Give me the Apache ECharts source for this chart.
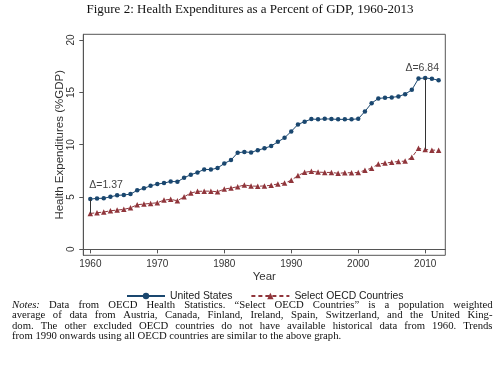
<!DOCTYPE html>
<html>
<head>
<meta charset="utf-8">
<script src="https://cdn.jsdelivr.net/npm/echarts@6/dist/echarts.min.js"></script>
<style>html,body{margin:0;padding:0;background:#fff;}#c{width:500px;height:368px;}</style>
</head>
<body>
<div id="c"></div>
<script>
const years = [1960,1961,1962,1963,1964,1965,1966,1967,1968,1969,
  1970,1971,1972,1973,1974,1975,1976,1977,1978,1979,
  1980,1981,1982,1983,1984,1985,1986,1987,1988,1989,
  1990,1991,1992,1993,1994,1995,1996,1997,1998,1999,
  2000,2001,2002,2003,2004,2005,2006,2007,2008,2009,
  2010,2011,2012];
const usValues = [4.80,4.87,4.88,5.02,5.16,5.19,5.28,5.64,5.83,6.07,
  6.24,6.33,6.49,6.46,6.84,7.13,7.35,7.64,7.62,7.77,
  8.21,8.53,9.23,9.31,9.26,9.48,9.65,9.88,10.27,10.66,
  11.27,11.94,12.20,12.45,12.42,12.47,12.45,12.42,12.42,12.42,
  12.47,13.18,13.97,14.42,14.48,14.52,14.61,14.83,15.24,16.32,
  16.38,16.30,16.16];
const oecdValues = [3.43,3.50,3.56,3.69,3.75,3.82,3.97,4.26,4.33,4.39,
  4.45,4.71,4.78,4.64,5.02,5.38,5.54,5.56,5.56,5.50,
  5.76,5.86,5.98,6.15,6.05,6.03,6.06,6.12,6.25,6.33,
  6.60,7.05,7.36,7.46,7.38,7.35,7.35,7.26,7.32,7.32,
  7.34,7.56,7.76,8.15,8.24,8.32,8.40,8.43,8.79,9.65,
  9.54,9.48,9.48];
const xTicks = [1960,1970,1980,1990,2000,2010];
const yTicks = [0,5,10,15,20];
const deltaYears = [1960,2010];
const seriesNames = ['United States','Select OECD Countries'];
const titleText = 'Figure 2: Health Expenditures as a Percent of GDP, 1960-2013';
const xName = 'Year';
const yName = 'Health Expenditures (%GDP)';
const notesLead = 'Notes:';
const noteLines = [
  'Data from OECD Health Statistics. \u201cSelect OECD Countries\u201d is a population weighted',
  'average of data from Austria, Canada, Finland, Ireland, Spain, Switzerland, and the United King-',
  'dom. The other excluded OECD countries do not have available historical data from 1960. Trends',
  'from 1990 onwards using all OECD countries are similar to the above graph.'
];

const NAVY = '#1a476f', MAROON = '#90353b';
const SANS = '"Liberation Sans", Arial, sans-serif';
const SERIF = '"Liberation Serif", "Times New Roman", serif';
const NOTE_SIZE = 10.7;

const usData = years.map((y, i) => [y, usValues[i]]);
const oecdData = years.map((y, i) => [y, oecdValues[i]]);
const idx = y => years.indexOf(y);

const markLines = deltaYears.map(y => [
  {coord: [y, usValues[idx(y)]]},
  {coord: [y, oecdValues[idx(y)]]}
]);
const markPoints = deltaYears.map((y, k) => ({
  coord: [y, usValues[idx(y)]],
  value: '\u0394=' + (usValues[idx(y)] - oecdValues[idx(y)]).toFixed(2),
  label: k === 0 ? {align: 'left', offset: [-1, -14]} : {align: 'center', offset: [-3, -10]}
}));

// justified note lines (single text element per line; word gaps set via rich width)
const ctx = document.createElement('canvas').getContext('2d');
function measure(t, italic) {
  ctx.font = (italic ? 'italic ' : '') + NOTE_SIZE + 'px ' + SERIF;
  return ctx.measureText(t).width;
}
const NOTE_X = 12, NOTE_W = 480.5;
const noteY = [305, 315.5, 326, 336.3];
const graphics = noteLines.map((t, i) => {
  const words = t.split(' ');
  const last = i === noteLines.length - 1;
  const tokens = (i === 0 ? [{w: notesLead, it: true}] : []).concat(words.map(w => ({w: w, it: false})));
  let gap = measure(' ', false);
  if (!last) {
    const sum = tokens.reduce((s, k) => s + measure(k.w, k.it), 0);
    gap = (NOTE_W - sum) / (tokens.length - 1);
  }
  const text = tokens.map(k => k.it ? '{i|' + k.w + '}' : k.w).join('{g| }');
  return {
    type: 'text', x: NOTE_X, y: noteY[i],
    style: {
      text: text,
      rich: {
        i: {fontStyle: 'italic', fontFamily: SERIF, fontSize: NOTE_SIZE, fill: '#111'},
        g: {width: gap, fontFamily: SERIF, fontSize: NOTE_SIZE}
      },
      fontFamily: SERIF, fontSize: NOTE_SIZE, fill: '#111', verticalAlign: 'middle'
    }
  };
});

const chart = echarts.init(document.getElementById('c'), null, {renderer: 'canvas'});
chart.setOption({
  animation: false,
  backgroundColor: '#fff',
  title: {
    text: titleText, left: 'center', top: -1.5,
    textStyle: {fontFamily: SERIF, fontWeight: 'normal', fontSize: 13, color: '#111'}
  },
  legend: {
    left: 121, top: 286, itemWidth: 38, itemHeight: 8, itemGap: 18,
    textStyle: {fontFamily: SANS, fontSize: 10.4, color: '#222'},
    data: seriesNames
  },
  grid: {
    left: 83.3, top: 34.3, width: 362, height: 221,
    show: true, borderColor: '#555', borderWidth: 1, backgroundColor: '#fff'
  },
  xAxis: {
    type: 'value', min: 1958.95, max: 2013,
    name: xName, nameLocation: 'middle', nameGap: 16, nameMoveOverlap: false,
    nameTextStyle: {fontFamily: SANS, fontSize: 11.5, color: '#333'},
    splitLine: {show: false},
    axisLine: {show: true, lineStyle: {color: '#555', width: 1}},
    axisTick: {show: true, length: 4, lineStyle: {color: '#555'}, customValues: xTicks},
    axisLabel: {customValues: xTicks, margin: 4, fontFamily: SANS, fontSize: 10, color: '#333', formatter: v => String(v)}
  },
  yAxis: {
    type: 'value', min: -0.57, max: 20.55,
    name: yName, nameLocation: 'middle', nameGap: 17.5, nameMoveOverlap: false,
    nameTextStyle: {fontFamily: SANS, fontSize: 11.5, color: '#333'},
    splitLine: {show: false},
    axisLine: {show: true, lineStyle: {color: '#555', width: 1}},
    axisTick: {show: true, length: 4, lineStyle: {color: '#555'}, customValues: yTicks},
    axisLabel: {customValues: yTicks, rotate: 90, margin: 7, fontFamily: SANS, fontSize: 10, color: '#333'}
  },
  series: [
    {
      name: seriesNames[0], type: 'line', data: usData,
      symbol: 'circle', symbolSize: 4.5,
      lineStyle: {color: NAVY, width: 1},
      itemStyle: {color: NAVY},
      markLine: {
        silent: true, symbol: ['none', 'none'], label: {show: false},
        lineStyle: {color: '#333', width: 1, type: 'solid'},
        data: markLines
      },
      markPoint: {
        symbol: 'circle', symbolSize: 0, silent: true,
        label: {show: true, position: 'inside', verticalAlign: 'middle', fontFamily: SANS, fontSize: 10.5, color: '#444', formatter: p => p.value},
        data: markPoints
      },
      z: 3
    },
    {
      name: seriesNames[1], type: 'line', data: oecdData,
      symbol: 'triangle', symbolSize: 5.5,
      lineStyle: {color: MAROON, width: 1, type: [4, 3]},
      itemStyle: {color: MAROON},
      z: 2
    }
  ],
  graphic: graphics
});
</script>
</body>
</html>
